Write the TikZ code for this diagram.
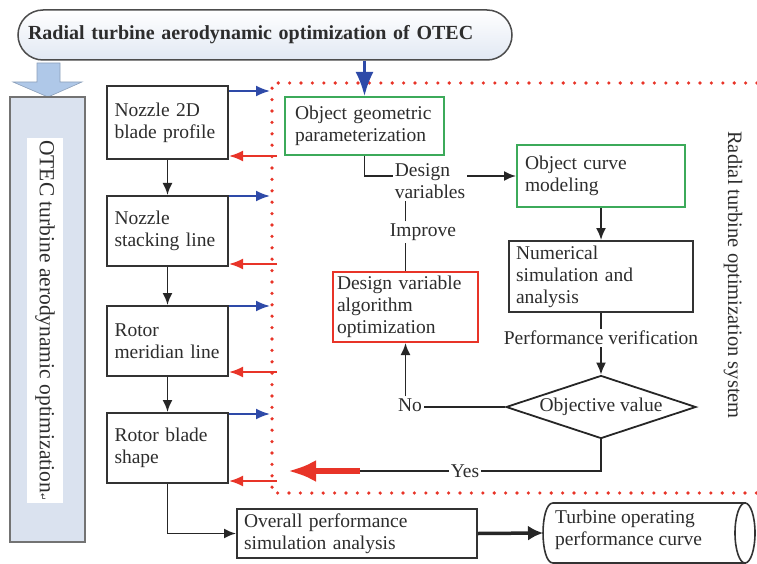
\documentclass[tikz,border=0pt]{standalone}
\usepackage{fontspec}
\setmainfont{Liberation Serif}
\newfontfamily\symfont{DejaVu Sans}
\usetikzlibrary{arrows.meta,shapes.geometric}
\definecolor{tblue}{RGB}{46,74,168}
\definecolor{tred}{RGB}{232,52,40}
\definecolor{tgreen}{RGB}{60,170,90}
\definecolor{tfill}{RGB}{218,226,239}
\definecolor{ttext}{RGB}{45,45,45}
\definecolor{tarrow}{RGB}{175,200,232}
\definecolor{tshade}{RGB}{225,232,243}
\newcommand{\fs}{\fontsize{19.5}{22}\selectfont}
\begin{document}
\begin{tikzpicture}[x=1pt,y=-1pt,
 every node/.style={text=ttext},
 box/.style={draw=black!80, line width=2pt, fill=white, inner sep=0pt, align=left, font=\fs},
 gbox/.style={box, draw=tgreen},
 rbox/.style={box, draw=tred},
 lbl/.style={font=\fs, fill=white, inner sep=2pt, align=left},
 arr/.style={draw=black!85, line width=1.8pt, -{Latex[length=12pt,width=10pt]}},
 ln/.style={draw=black!85, line width=1.8pt},
 bluearr/.style={draw=tblue, line width=2pt, -{Latex[length=14pt,width=11pt]}},
 redarr/.style={draw=tred, line width=2pt, -{Latex[length=14pt,width=11pt]}},
 dotline/.style={draw=tred, line width=3.6pt, line cap=round, dash pattern=on 0pt off 11.4pt},
]
\useasboundingbox (0,0) rectangle (757,564);

% title
\node[draw=black!70, line width=1.5pt, rounded corners=25pt, top color=white, bottom color=tshade,
      minimum width=494pt, minimum height=50pt, text width=474pt, align=left, inner sep=0pt,
      font=\fontsize{20}{24}\selectfont\bfseries] (title) at (265,35) {Radial turbine aerodynamic optimization of OTEC};

% left column
\path[fill=tarrow, draw=tarrow!80!black, line width=0.6pt] (37,63) -- (60,63) -- (60,82) -- (82,82) -- (48,97) -- (13,82) -- (37,82) -- cycle;
\node[draw=black!55, line width=1.6pt, fill=tfill, minimum width=75pt, minimum height=445pt, inner sep=0pt] (lb) at (47.5,319.5) {};
\node[fill=white, rotate=-90, minimum width=365pt, minimum height=36pt, inner sep=0pt,
      font=\fontsize{21.5}{24}\selectfont] (lt) at (45,320.5) {OTEC turbine aerodynamic optimization{\symfont\fontsize{9}{9}\selectfont ↵}};

% dotted frame
\coordinate (fTL) at (272,83);
\coordinate (fBL) at (272,493);
\coordinate (fTR) at (757,83);
\coordinate (fBR) at (757,493);
\coordinate (fin) at (270,0);
\coordinate (fout) at (277,0);
\draw[dotline] (fTR) -- (fTL) -- (fBL) -- (fBR);

% boxes
\node[box, minimum width=121pt, minimum height=73pt, text width=106pt] (n1) at (167.5,122.5) {Nozzle 2D\\blade profile};
\node[box, minimum width=121pt, minimum height=70pt, text width=106pt] (n2) at (167.5,231) {Nozzle\\stacking line};
\node[box, minimum width=121pt, minimum height=70pt, text width=106pt] (n3) at (167.5,341) {Rotor\\meridian line};
\node[box, minimum width=121pt, minimum height=70pt, text width=106pt] (n4) at (167.5,448) {Rotor blade\\shape};

\node[gbox, minimum width=159pt, minimum height=58pt, text width=139pt] (g1) at (364.5,126) {Object geometric\\parameterization};
\node[gbox, minimum width=168pt, minimum height=62pt, text width=152pt] (g2) at (601,176) {Object curve\\modeling};
\node[box, minimum width=184pt, minimum height=71pt, text width=170pt] (num) at (601,276.5) {Numerical\\simulation and\\analysis};
\node[rbox, minimum width=145pt, minimum height=70pt, text width=137pt] (opt) at (405.5,307) {Design variable\\algorithm\\optimization};

\node[lbl] (dv) at (430,181) {Design\\variables};
\node[lbl] (imp) at (423,232) {Improve};
\node[lbl] (pv) at (601,338) {Performance verification};
\node[draw=black!85, line width=1.8pt, diamond, shape aspect=3, inner sep=0pt, minimum width=190pt,
      minimum height=63pt, font=\fs, fill=white] (dia) at (601,407) {Objective value};
\node[lbl] (no) at (410,405) {No};
\node[lbl] (yes) at (465,471) {Yes};

\node[box, minimum width=240pt, minimum height=49pt, text width=226pt] (ov) at (357,533.5) {Overall performance\\simulation analysis};

% cylinder
\path[draw=black!80, line width=1.6pt, fill=white] (553,503) -- (745,503) -- (745,563) -- (553,563)
   .. controls (539.7,563) and (539.7,503) .. (553,503) -- cycle;
\draw[black!80, line width=1.6pt, fill=white] (745,533) ellipse [x radius=10pt, y radius=30pt];
\node[font=\fs, align=left, anchor=west, inner sep=0pt] (cyl) at (555,530) {Turbine operating\\performance curve};
\coordinate (cylL) at (543,533);

\node[font=\fontsize{20.5}{24}\selectfont, rotate=-90] (rt) at (733,275) {Radial turbine optimization system};

% connectors
\draw[draw=tblue, line width=2.5pt, -{Latex[length=24pt,width=18pt]}] (title.south -| g1.north) -- (g1.north);

\draw[arr] (n1.south) -- (n2.north);
\draw[arr] (n2.south) -- (n3.north);
\draw[arr] (n3.south) -- (n4.north);
\draw[arr] (n4.south) |- (ov.west);

\draw[bluearr] ([yshift=-6pt]n1.north east) -- ([yshift=-6pt]n1.north east -| fin);
\draw[bluearr] ([yshift=-1pt]n2.north east) -- ([yshift=-1pt]n2.north east -| fin);
\draw[bluearr] ([yshift=-1pt]n3.north east) -- ([yshift=-1pt]n3.north east -| fin);
\draw[bluearr] ([yshift=-2pt]n4.north east) -- ([yshift=-2pt]n4.north east -| fin);

\draw[redarr] ([yshift=4pt]n1.south east -| fout) -- ([yshift=4pt]n1.south east);
\draw[redarr] ([yshift=3pt]n2.south east -| fout) -- ([yshift=3pt]n2.south east);
\draw[redarr] ([yshift=5pt]n3.south east -| fout) -- ([yshift=5pt]n3.south east);
\draw[redarr] ([yshift=3pt]n4.south east -| fout) -- ([yshift=3pt]n4.south east);

\draw[ln] (g1.south) |- (g2.west -| dv.west);
\draw[arr] (g2.west -| dv.east) -- (g2.west);
\draw[arr] (g2.south) -- (num.north);
\draw[ln] (num.south) -- (pv.north);
\draw[arr] (pv.south) -- (dia.north);
\draw[ln] (dia.west) -- (dia.west -| no.east);
\draw[arr] (no.north -| opt.south) -- (opt.south);
\draw[ln] (opt.north) -- (imp.south -| opt.north);
\draw[ln] (imp.north -| opt.north) -- (dv.south -| opt.north);

\coordinate (ry) at (360,471);
\coordinate (rend) at (288,471);
\draw[ln] (dia.south) |- (yes.east);
\draw[ln] (yes.west) -- (ry);
\draw[draw=tred, line width=5.5pt, -{Latex[length=28pt,width=22pt]}] (ry) -- (rend);

\draw[draw=black!85, line width=3.5pt, -{Latex[length=15pt,width=15pt]}] (ov.east) -- (cylL);
\end{tikzpicture}
\end{document}
